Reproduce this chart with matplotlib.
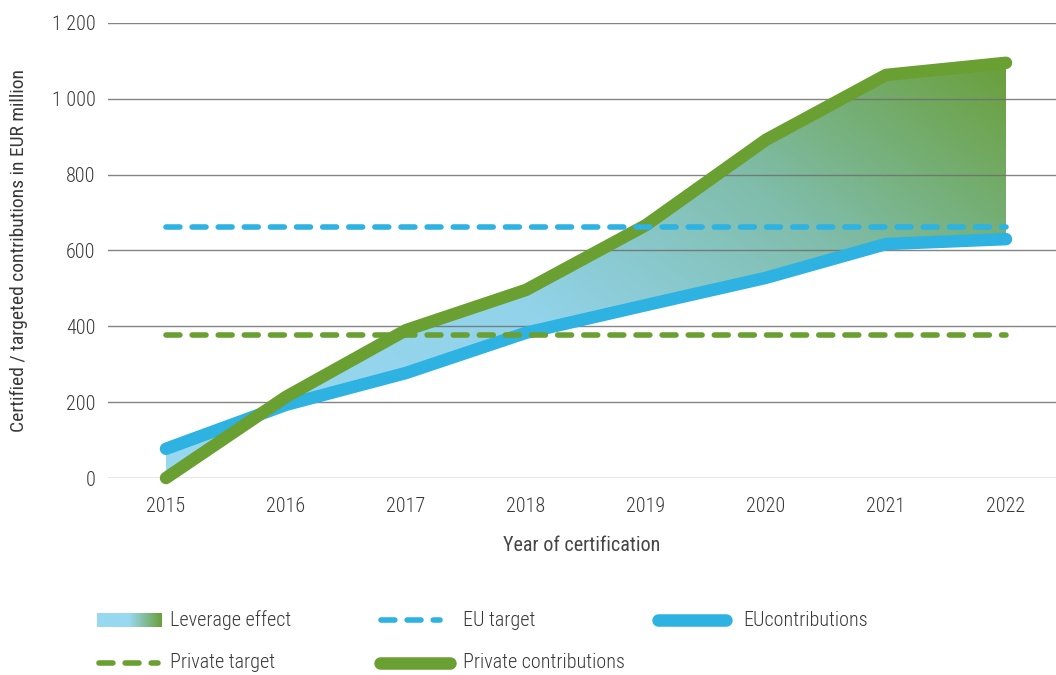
import numpy as np
import matplotlib
matplotlib.use('Agg')
import matplotlib.pyplot as plt
from matplotlib.colors import LinearSegmentedColormap
from matplotlib.lines import Line2D
from matplotlib import font_manager

# pick a condensed face if one is installed
fonts = font_manager.fontManager.ttflist
names = set(f.name for f in fonts)
stretch = 'normal'
fam = 'DejaVu Sans'
if 'Roboto Condensed' in names:
    fam = 'Roboto Condensed'
elif 'Liberation Sans Narrow' in names:
    fam = 'Liberation Sans Narrow'
elif any('DejaVuSansCondensed' in f.fname for f in fonts):
    stretch = 'condensed'
plt.rcParams['font.family'] = [fam, 'DejaVu Sans']
plt.rcParams['font.stretch'] = stretch
plt.rcParams['font.weight'] = 'light'
fs = 14 if fam != 'DejaVu Sans' or stretch == 'condensed' else 13

# data
years = [2015, 2016, 2017, 2018, 2019, 2020, 2021, 2022]
eu_contrib = [77, 193, 277, 383, 456, 528, 617, 630]
private_contrib = [0, 214, 390, 496, 667, 892, 1063, 1095]
eu_target = 662
private_target = 377
yticks = [0, 200, 400, 600, 800, 1000, 1200]
ytick_labels = ['0', '200', '400', '600', '800', '1 000', '1 200']

blue = '#2db2e2'
green = '#6a9f32'
text_col = '#383838'

fig = plt.figure(figsize=(10.56, 6.75), dpi=100)
ax = fig.add_axes([108/1056, (675-478)/675, 1 - 108/1056, (478-23)/675])
ax.set_xlim(2015 - 58/120, 2022 + 50/120)
ax.set_ylim(0, 1200)

# gradient fill between the two series
poly = ax.fill_between(years, eu_contrib, private_contrib, color='none', lw=0)
cmap = LinearSegmentedColormap.from_list('lev', [(0, '#98d8f0'), (0.42, '#92d3ea'),
                                                 (0.70, '#80bdab'), (1, '#6a9f3a')])
gx = np.linspace(2015, 2022, 300)
gy = np.linspace(0, 1100, 300)
GX, GY = np.meshgrid(gx, gy)
T = np.clip(0.6 * (GX - 2015) / 7 + 0.4 * GY / 1100, 0, 1)
img = ax.imshow(T, cmap=cmap, origin='lower', aspect='auto',
                extent=[2015, 2022, 0, 1100], zorder=1, vmin=0, vmax=1)
img.set_clip_path(poly.get_paths()[0], transform=ax.transData)

ax.set_yticks(yticks)
ax.set_yticklabels(ytick_labels)
ax.set_xticks(years)
ax.grid(axis='y', color='#6f6f6f', lw=1.0, alpha=0.85, zorder=2)
ax.set_axisbelow(False)
for s in ax.spines.values():
    s.set_visible(False)
ax.tick_params(length=0, labelsize=fs + 0.5, colors=text_col)
ax.tick_params(axis='y', pad=9)
ax.tick_params(axis='x', pad=14)

ax.plot(years, eu_contrib, color=blue, lw=9, solid_capstyle='round',
        solid_joinstyle='round', zorder=3, clip_on=False)
ax.plot(years, private_contrib, color=green, lw=9, solid_capstyle='round',
        solid_joinstyle='round', zorder=4, clip_on=False)
dash = dict(lw=4.0, dash_capstyle='round', zorder=5)
ax.plot([years[0], years[-1]], [eu_target] * 2, color=blue, dashes=(2.5, 2.2), **dash)
ax.plot([years[0], years[-1]], [private_target] * 2, color=green, dashes=(2.5, 2.2), **dash)

ax.set_xlabel('Year of certification', fontsize=fs + 0.5, color='#454545',
              labelpad=14, fontweight='normal')
ax.yaxis.set_label_coords(-(108 - 19) / 948, 0.5)
ax.set_ylabel('Certified / targeted contributions in EUR million', fontsize=fs,
              color=text_col, va='center', fontweight='normal')

# legend drawn in figure pixels
def fx(p):
    return p / 1056
def fy(p):
    return 1 - p / 675

lg = np.linspace(0, 1, 200).reshape(1, -1)
lax = fig.add_axes([fx(97), fy(627), fx(65), 14/675])
lax.imshow(lg, cmap=LinearSegmentedColormap.from_list('lg', ['#98d8f0', '#98d8f0', '#6a9f3a']),
           aspect='auto')
lax.axis('off')

fig.add_artist(Line2D([fx(381), fx(440)], [fy(620)] * 2, color=blue, lw=4.0,
                      dashes=(2.5, 2.2), dash_capstyle='round'))
fig.add_artist(Line2D([fx(658), fx(726)], [fy(620)] * 2, color=blue, lw=9,
                      solid_capstyle='round'))
fig.add_artist(Line2D([fx(99), fx(158)], [fy(663)] * 2, color=green, lw=4.0,
                      dashes=(2.5, 2.2), dash_capstyle='round'))
fig.add_artist(Line2D([fx(380), fx(450)], [fy(663)] * 2, color=green, lw=9,
                      solid_capstyle='round'))
for x, y, s in [(170, 620, 'Leverage effect'), (463, 620, 'EU target'),
                (743, 620, 'EUcontributions'), (170, 663, 'Private target'),
                (463, 663, 'Private contributions')]:
    fig.text(fx(x), fy(y), s, fontsize=fs + 0.5, color=text_col, va='center', ha='left')

fig.savefig('out.png', dpi=100)
